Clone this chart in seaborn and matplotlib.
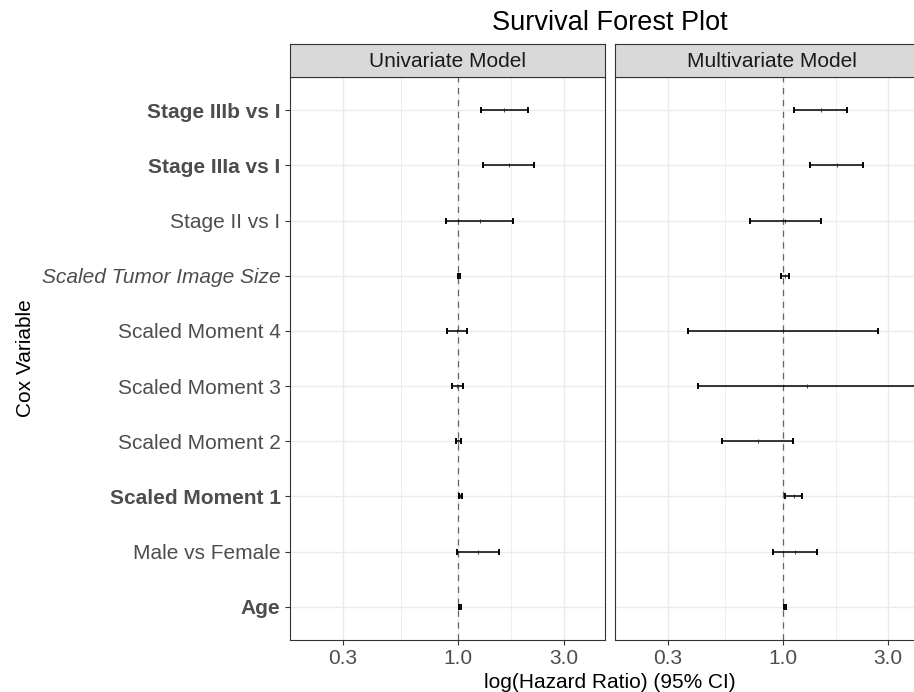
import numpy as np
import pandas as pd
import matplotlib
matplotlib.use("Agg")
import matplotlib.pyplot as plt
from matplotlib.ticker import NullFormatter
import seaborn as sns

# ---------------- data ----------------
variables = ["Stage IIIb vs I", "Stage IIIa vs I", "Stage II vs I",
             "Scaled Tumor Image Size", "Scaled Moment 4", "Scaled Moment 3",
             "Scaled Moment 2", "Scaled Moment 1", "Male vs Female", "Age"]
models = ["Univariate Model", "Multivariate Model"]

uni_est   = [1.62, 1.70, 1.25, 1.01, 0.99, 0.99, 1.00, 1.02, 1.23, 1.02]
uni_lower = [1.27, 1.30, 0.88, 1.00, 0.89, 0.94, 0.98, 1.01, 0.99, 1.01]
uni_upper = [2.08, 2.20, 1.77, 1.02, 1.09, 1.05, 1.025, 1.04, 1.53, 1.03]

multi_est   = [1.48, 1.75, 1.02, 1.02, 1.00, 1.29, 0.77, 1.12, 1.13, 1.02]
multi_lower = [1.125, 1.32, 0.71, 0.98, 0.37, 0.41, 0.53, 1.02, 0.90, 1.01]
multi_upper = [1.96, 2.31, 1.49, 1.06, 2.70, 4.30, 1.11, 1.22, 1.42, 1.03]

x_ticks = [0.3, 1.0, 3.0]
x_tick_labels = ["0.3", "1.0", "3.0"]

# label styling (kept separate from data)
bold_labels = {"Stage IIIb vs I", "Stage IIIa vs I", "Scaled Moment 1", "Age"}
italic_labels = {"Scaled Tumor Image Size"}

df = pd.concat([
    pd.DataFrame({"model": models[0], "variable": variables,
                  "est": uni_est, "lower": uni_lower, "upper": uni_upper}),
    pd.DataFrame({"model": models[1], "variable": variables,
                  "est": multi_est, "lower": multi_lower, "upper": multi_upper}),
], ignore_index=True)

# ---------------- style ----------------
sns.set_theme(style="white")
plt.rcParams["font.family"] = ["Liberation Sans", "DejaVu Sans"]

W, H = 914, 692
fig = plt.figure(figsize=(W / 100, H / 100), dpi=100)
fig.patch.set_facecolor("white")

pl_top, pl_bot = 77, 640
strip_top = 44
panel_w = 315
lefts = [290, 614.7]
xlim = (0.1725, 4.627)
minor_ticks = [10 ** ((np.log10(a) + np.log10(b)) / 2) for a, b in zip(x_ticks[:-1], x_ticks[1:])]

border = "#333333"
for i, (model, left) in enumerate(zip(models, lefts)):
    ax = fig.add_axes([left / W, 1 - pl_bot / H, panel_w / W, (pl_bot - pl_top) / H])
    ax.set_xscale("log")
    ax.set_axisbelow(True)
    sub = df[df["model"] == model].reset_index(drop=True)

    sns.pointplot(data=sub, x="est", y="variable", order=variables, orient="h",
                  linestyle="none", markers="|", color="#222222", markersize=2.5,
                  markeredgewidth=0.6, errorbar=None, ax=ax, zorder=4)
    ypos = np.arange(len(variables))
    est = sub["est"].values
    ax.errorbar(est, ypos, xerr=[est - sub["lower"].values, sub["upper"].values - est],
                fmt="none", ecolor="black", elinewidth=1.1, capsize=2.0,
                capthick=1.4, zorder=3)
    ax.axvline(1.0, color="#666666", lw=0.9, ls=(0, (5, 4.5)), zorder=2)

    ax.set_xlim(*xlim)
    ax.set_ylim(len(variables) - 1 + 0.6, -0.6)
    ax.set_xticks(x_ticks)
    ax.set_xticklabels(x_tick_labels)
    ax.set_xticks(minor_ticks, minor=True)
    ax.xaxis.set_minor_formatter(NullFormatter())
    ax.grid(which="major", color="#EBEBEB", lw=1.0)
    ax.grid(which="minor", axis="x", color="#EBEBEB", lw=0.6)
    ax.tick_params(which="minor", length=0)
    ax.tick_params(axis="both", which="major", length=3.8, width=0.8, color=border,
                   labelsize=15, labelcolor="#4D4D4D", pad=3,
                   bottom=True, left=True)
    ax.set_xlabel("")
    ax.set_ylabel("")
    for sp in ax.spines.values():
        sp.set_visible(True)
        sp.set_color(border)
        sp.set_linewidth(0.8)

    if i == 0:
        for lab in ax.get_yticklabels():
            t = lab.get_text()
            if t in bold_labels:
                lab.set_fontweight("bold")
            if t in italic_labels:
                lab.set_fontstyle("italic")
    else:
        ax.tick_params(axis="y", left=False, labelleft=False)

    # facet strip
    sax = fig.add_axes([left / W, 1 - pl_top / H, panel_w / W, (pl_top - strip_top) / H])
    sax.set_facecolor("#D9D9D9")
    sax.set_xticks([])
    sax.set_yticks([])
    for sp in sax.spines.values():
        sp.set_visible(True)
        sp.set_color(border)
        sp.set_linewidth(0.8)
    sax.text(0.5, 0.47, model, ha="center", va="center", fontsize=15,
             color="#1A1A1A", transform=sax.transAxes)

panel_center = (lefts[0] + lefts[1] + panel_w) / 2 / W
fig.text(panel_center, 1 - 30.5 / H, "Survival Forest Plot", ha="center",
         va="baseline", fontsize=19.5, color="black")
fig.text(panel_center, 1 - 688 / H, "log(Hazard Ratio) (95% CI)", ha="center",
         va="baseline", fontsize=15, color="black")
fig.text(26 / W, 1 - 358.5 / H, "Cox Variable", ha="center", va="center",
         rotation=90, fontsize=15, color="black")

fig.savefig("out.png", dpi=100)
